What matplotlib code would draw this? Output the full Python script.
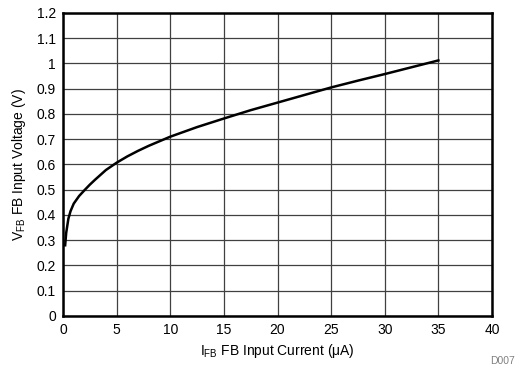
import matplotlib
matplotlib.use('Agg')
import matplotlib.pyplot as plt
from matplotlib.ticker import MultipleLocator

plt.rcParams['font.family'] = ['Liberation Sans', 'DejaVu Sans']

# FB input current (uA) vs FB input voltage (V)
i_fb = [0.2, 0.3, 0.5, 0.7, 1, 1.5, 2, 2.5, 3, 4, 5, 6, 7, 8, 9, 10,
        12.5, 15, 17.5, 20, 22.5, 25, 27.5, 30, 32.5, 35]
v_fb = [0.28, 0.33, 0.385, 0.415, 0.445, 0.475, 0.498, 0.52, 0.54, 0.578,
        0.607, 0.632, 0.654, 0.674, 0.692, 0.71, 0.748, 0.782, 0.815,
        0.845, 0.875, 0.905, 0.932, 0.958, 0.985, 1.012]

fig = plt.figure(figsize=(5.19, 3.70), dpi=100)
ax = fig.add_axes([0.1214, 0.146, 0.8266, 0.819])

ax.plot(i_fb, v_fb, color='black', lw=1.8, zorder=3)

ax.set_xlim(0, 40)
ax.set_ylim(0, 1.2)
ax.xaxis.set_major_locator(MultipleLocator(5))
ax.set_yticks([0, 0.1, 0.2, 0.3, 0.4, 0.5, 0.6, 0.7, 0.8, 0.9, 1, 1.1, 1.2])
ax.set_yticklabels(['0', '0.1', '0.2', '0.3', '0.4', '0.5', '0.6', '0.7',
                    '0.8', '0.9', '1', '1.1', '1.2'])
ax.grid(True, color='#404040', lw=0.9)
ax.tick_params(length=0, labelsize=10, pad=5)
for s in ax.spines.values():
    s.set_linewidth(1.8)

ax.set_xlabel(r'I$_{\mathregular{FB}}$ FB Input Current ($\mathregular{\mu}$A)', fontsize=10, labelpad=4)
ax.set_ylabel(r'V$_{\mathregular{FB}}$ FB Input Voltage (V)', fontsize=10, labelpad=6)

fig.text(0.992, 0.012, 'D007', fontsize=7.5, color='#808080', ha='right', va='bottom')

fig.savefig('out.png', dpi=100)
